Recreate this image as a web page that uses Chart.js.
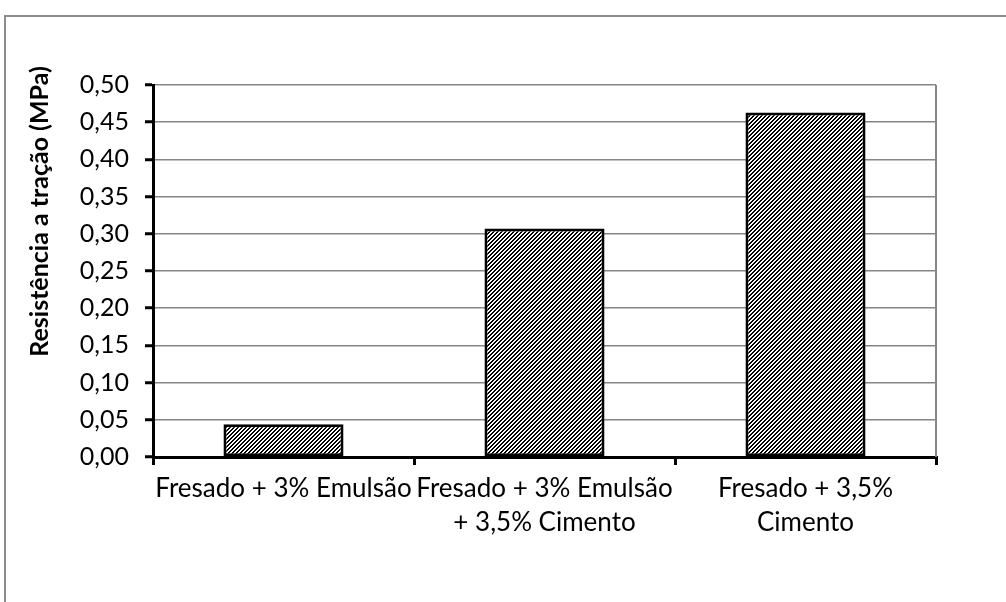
<!DOCTYPE html>
<html>
<head>
<meta charset="utf-8">
<script src="https://cdn.jsdelivr.net/npm/chart.js@4"></script>
<style>
html, body { margin: 0; padding: 0; background: #fff; overflow: hidden; }
#frame { position: absolute; left: 4px; top: 15px; width: 1100px; height: 700px; border: 2px solid #8c8c8c; box-sizing: border-box; }
#chartDiv { position: absolute; left: 0; top: 0; width: 1006px; height: 602px; }
</style>
</head>
<body>
<div id="frame"></div>
<div id="chartDiv"><canvas id="barChart" width="1006" height="602"></canvas></div>
<script>
// categories (multi-line labels)
var _labels = [
  ['Fresado + 3% Emulsão'],
  ['Fresado + 3% Emulsão', '+ 3,5% Cimento'],
  ['Fresado + 3,5%', 'Cimento']
];
// tensile strength, MPa
var _data = [0.044, 0.307, 0.463];
var _yTitle = 'Resistência a tração (MPa)';
var _yMin = 0, _yMax = 0.5, _yStep = 0.05;

var FONT = 'Lato';

// black/white diagonal hatch
function hatchPattern(ctx) {
  var c = document.createElement('canvas');
  c.width = 4; c.height = 4;
  var g = c.getContext('2d');
  g.fillStyle = '#fff';
  g.fillRect(0, 0, 4, 4);
  g.fillStyle = '#000';
  for (var x = 0; x < 4; x++) {
    for (var y = 0; y < 4; y++) {
      if ((x + y) % 4 < 2) g.fillRect(x, y, 1, 1);
    }
  }
  return ctx.createPattern(c, 'repeat');
}

// right edge of plot + rotated axis title
var plotExtras = {
  id: 'plotExtras',
  beforeDatasetsDraw: function(chart) {
    var a = chart.chartArea, ctx = chart.ctx;
    ctx.save();
    ctx.strokeStyle = '#868686';
    ctx.lineWidth = 2;
    ctx.beginPath();
    ctx.moveTo(a.right, a.top);
    ctx.lineTo(a.right, a.bottom);
    ctx.stroke();
    ctx.restore();
  },
  afterDraw: function(chart) {
    var a = chart.chartArea, ctx = chart.ctx;
    ctx.save();
    ctx.translate(40, a.top + (a.bottom - a.top) * 0.34);
    ctx.rotate(-Math.PI / 2);
    ctx.fillStyle = '#000';
    ctx.font = 'bold 25px ' + FONT;
    ctx.textAlign = 'center';
    ctx.textBaseline = 'middle';
    ctx.fillText(_yTitle, 0, 0);
    ctx.restore();
  }
};

function barChart() {
  var ctx = document.getElementById('barChart').getContext('2d');
  myChart = new Chart(ctx, {
    type: 'bar',
    data: {
      labels: _labels,
      datasets: [{
        data: _data,
        backgroundColor: hatchPattern(ctx),
        borderColor: '#000',
        borderWidth: 3,
        borderSkipped: false,
        barPercentage: 0.46,
        categoryPercentage: 1
      }]
    },
    options: {
      responsive: false,
      animation: false,
      layout: { padding: { top: 85, right: 70, left: 0, bottom: 0 } },
      scales: {
        x: {
          offset: true,
          grid: { offset: true, drawOnChartArea: false, drawTicks: true, tickLength: 8, color: '#000', lineWidth: 3 },
          border: { color: '#000', width: 3 },
          ticks: {
            color: '#000',
            font: { family: FONT, size: 26, lineHeight: 1.3 },
            maxRotation: 0, minRotation: 0, autoSkip: false, padding: 7
          },
          afterFit: function(s) { s.height = 145; }
        },
        y: {
          min: _yMin,
          max: _yMax,
          ticks: {
            stepSize: _yStep,
            color: '#000',
            font: { family: FONT, size: 25 },
            padding: 16,
            callback: function(v) { return v.toFixed(2).replace('.', ','); }
          },
          grid: { color: '#868686', lineWidth: 1.5, tickColor: '#000', tickWidth: 3, tickLength: 8 },
          border: { color: '#000', width: 3 },
          afterFit: function(s) { s.width = 153; }
        }
      },
      plugins: {
        legend: { display: false },
        tooltip: { enabled: false }
      }
    },
    plugins: [plotExtras]
  });
}

barChart();
</script>
</body>
</html>
